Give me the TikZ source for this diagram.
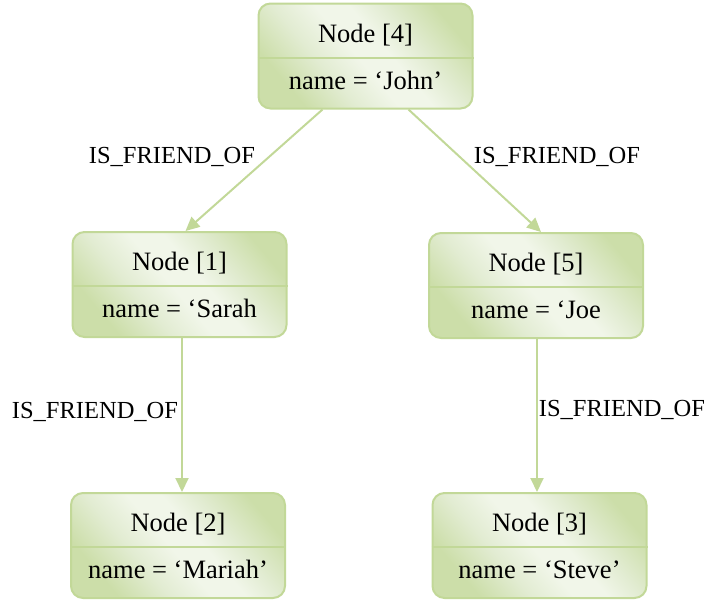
\documentclass[tikz,border=0pt]{standalone}
\usepackage{fontspec}
\setmainfont{Liberation Serif}
\usetikzlibrary{arrows.meta,calc}

\definecolor{edgegreen}{RGB}{194,216,152}
\definecolor{filldark}{RGB}{204,222,169}
\definecolor{fillmid}{RGB}{226,236,210}
\definecolor{filllight}{RGB}{241,246,233}

% diagonal fill: green corners, soft pale centre
\pgfdeclareverticalshading{entityshade}{100bp}{%
  color(0bp)=(filldark); color(26bp)=(filldark);
  color(38bp)=(fillmid); color(48bp)=(filllight);
  color(56bp)=(filllight); color(64bp)=(fillmid);
  color(76bp)=(filldark); color(100bp)=(filldark)}

\tikzset{
  entity/.style={rectangle, rounded corners=12pt, draw=edgegreen, line width=2pt,
    minimum width=214pt, minimum height=105pt, inner sep=0pt,
    shading=entityshade, shading angle=-50},
  headtext/.style={font=\fontsize{26.5}{30}\selectfont, inner sep=0pt},
  bodytext/.style={font=\fontsize{26.5}{30}\selectfont, inner sep=0pt},
  rel/.style={draw=edgegreen, line width=2pt,
    -{Triangle[length=14pt,width=13pt]}},
  rellabel/.style={font=\fontsize{24.5}{28}\selectfont, inner sep=0pt},
}

\newcommand{\entitybox}[5]{%
  % #1 name, #2 x, #3 y, #4 header, #5 attribute line
  \node[entity] (#1) at (#2,#3) {};
  \draw[edgegreen, line width=2pt] ($(#1.west)+(0,1.5)$) coordinate (#1-l)
     -- ($(#1.east)+(0,1.5)$) coordinate (#1-r);
  \node[headtext] (#1-head) at ($(#1.center)+(0,-21)$) {#4};
  \node[bodytext] (#1-body) at ($(#1.center)+(0,24)$) {#5};
}

\begin{document}
\begin{tikzpicture}[x=1pt, y=-1pt]
  \useasboundingbox (0,0) rectangle (707,603);

  \entitybox{n4}{365.5}{56}{Node [4]}{name = ‘John’}
  \entitybox{n1}{179.5}{284.5}{Node [1]}{name = ‘Sarah}
  \entitybox{n5}{536}{285.5}{Node [5]}{name = ‘Joe}
  \entitybox{n2}{178}{545.5}{Node [2]}{name = ‘Mariah’}
  \entitybox{n3}{539.5}{545.5}{Node [3]}{name = ‘Steve’}

  \draw[rel] ([xshift=-43pt]n4.south) -- ([xshift=6pt]n1.north);
  \draw[rel] ([xshift=43pt]n4.south) -- ([xshift=5pt]n5.north);
  \draw[rel] ([xshift=2.5pt]n1.south) -- ([xshift=4pt]n2.north);
  \draw[rel] ([xshift=1pt]n5.south) -- ([xshift=-2.5pt]n3.north);

  \node[rellabel] (l41) at (172,157) {IS\_FRIEND\_OF};
  \node[rellabel] (l45) at (557,157) {IS\_FRIEND\_OF};
  \node[rellabel] (l12) at (95,412) {IS\_FRIEND\_OF};
  \node[rellabel] (l53) at (622,410) {IS\_FRIEND\_OF};
\end{tikzpicture}
\end{document}
